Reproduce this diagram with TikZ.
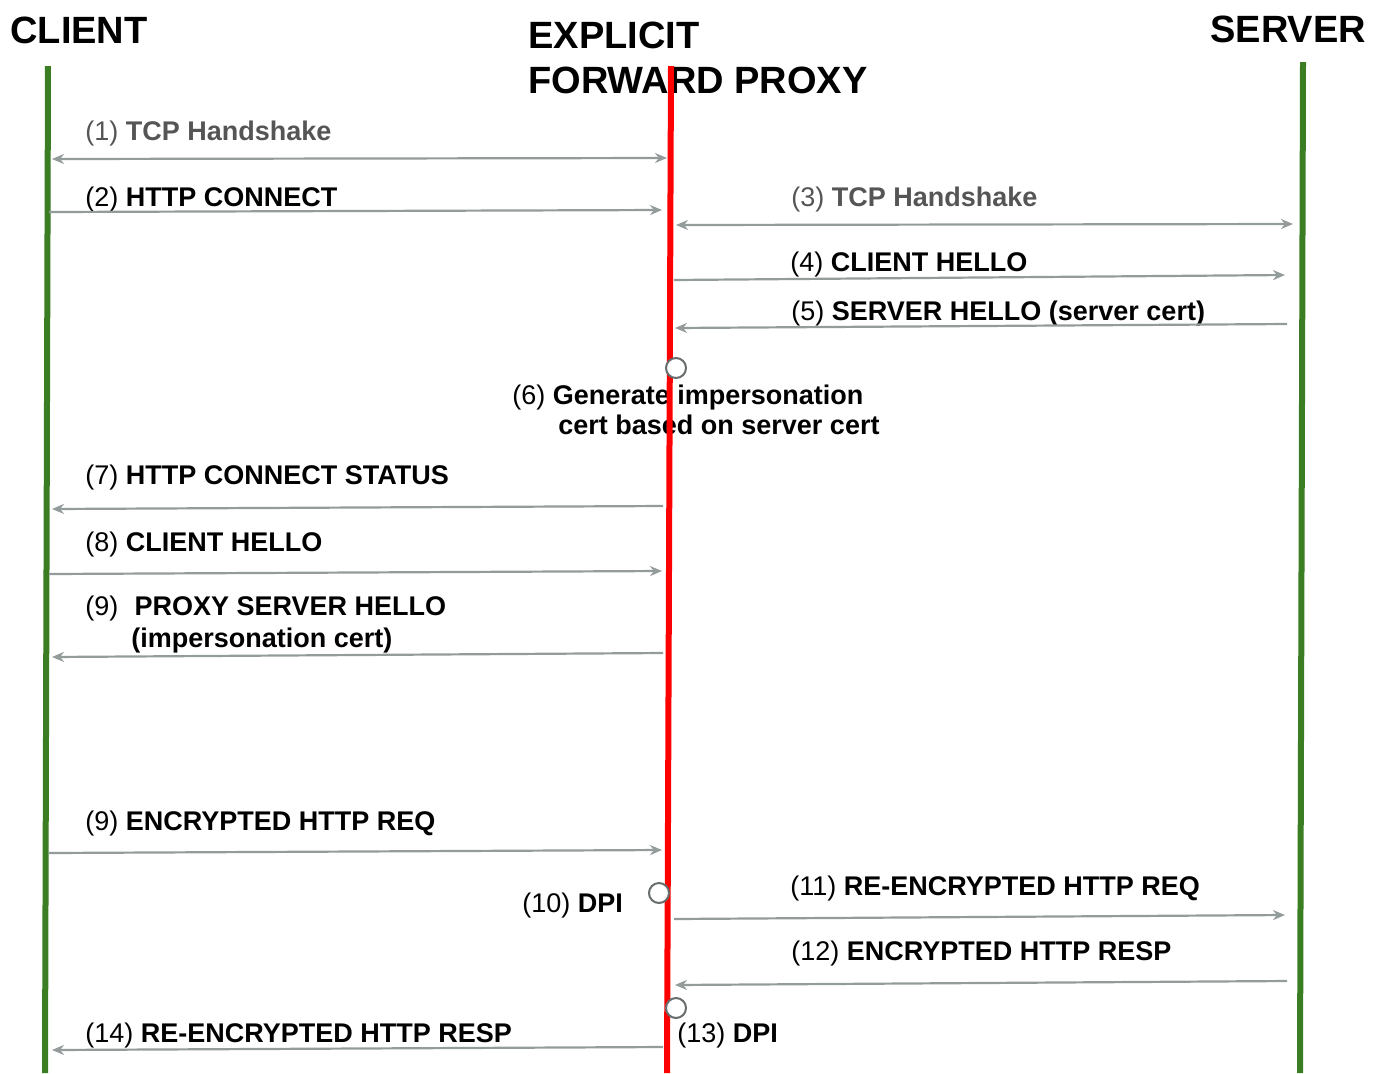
\documentclass[tikz,border=0pt]{standalone}
\usepackage{fontspec}
\setmainfont{Liberation Sans}
\usetikzlibrary{arrows.meta}
\definecolor{lifegreen}{HTML}{3A7D22}
\definecolor{msggray}{HTML}{939B9B}
\definecolor{labelgray}{HTML}{555555}
\tikzset{
  lifeline/.style={line width=3pt},
  msg/.style={draw=msggray, line width=1.1pt, >={Stealth[length=6pt,width=5pt]}},
  lbl/.style={anchor=base west, inner sep=0pt, font=\fontsize{13.5}{16}\selectfont},
  headline/.style={anchor=base west, inner sep=0pt, font=\fontsize{19}{23}\selectfont\bfseries},
  dpimark/.style={circle, draw=msggray!70!black, fill=white, line width=1pt, minimum size=10pt, inner sep=0pt},
}

\begin{document}
\begin{tikzpicture}[x=0.5pt,y=-0.5pt]
  \useasboundingbox (0,0) rectangle (1382,1073);
  %%%%% HEADINGS %%%%%
  \node[headline] (client) at (10,43) {CLIENT};
  \node[headline] (proxy1) at (528,48) {EXPLICIT};
  \node[headline] (proxy2) at (528,93) {FORWARD PROXY};
  \node[headline] (server) at (1210,42) {SERVER};

  %%%%% LABELS %%%%%
  \node[lbl, text=labelgray] (l1) at (85,140) {(1) \textbf{TCP Handshake}};
  \node[lbl] (l2) at (85,206) {(2) \textbf{HTTP CONNECT}};
  \node[lbl, text=labelgray] (l3) at (791,206) {(3) \textbf{TCP Handshake}};
  \node[lbl] (l4) at (790,271) {(4) \textbf{CLIENT HELLO}};
  \node[lbl] (l5) at (791,320) {(5) \textbf{SERVER HELLO (server cert)}};
  \node[lbl] (l6a) at (512,404) {(6) \textbf{Generate impersonation}};
  \node[lbl] (l6b) at (558,434) {\textbf{cert based on server cert}};
  \node[lbl] (l7) at (85,484) {(7) \textbf{HTTP CONNECT STATUS}};
  \node[lbl] (l8) at (85,551) {(8) \textbf{CLIENT HELLO}};
  \node[lbl] (l9a) at (85,615) {(9)\hspace{0.6em}\textbf{PROXY SERVER HELLO}};
  \node[lbl] (l9b) at (131,647) {\textbf{(impersonation cert)}};
  \node[lbl] (l9c) at (85,830) {(9) \textbf{ENCRYPTED HTTP REQ}};
  \node[lbl] (l10) at (522,912) {(10) \textbf{DPI}};
  \node[lbl] (l11) at (790,895) {(11) \textbf{RE-ENCRYPTED HTTP REQ}};
  \node[lbl] (l12) at (791,960) {(12) \textbf{ENCRYPTED HTTP RESP}};
  \node[lbl] (l13) at (677,1042) {(13) \textbf{DPI}};
  \node[lbl] (l14) at (85,1042) {(14) \textbf{RE-ENCRYPTED HTTP RESP}};

  %%%%% LIFELINES %%%%%
  \coordinate (clienttop) at (48,66);
  \coordinate (clientbot) at (45,1073);
  \coordinate (proxytop) at (671,66);
  \coordinate (proxybot) at (667,1073);
  \coordinate (servertop) at (1303,62);
  \coordinate (serverbot) at (1300,1073);
  \draw[lifeline, lifegreen] (clienttop) -- (clientbot);
  \draw[lifeline, red] (proxytop) -- (proxybot);
  \draw[lifeline, lifegreen] (servertop) -- (serverbot);

  %%%%% MESSAGES %%%%%
  \coordinate (m1a) at (52,159);    \coordinate (m1b) at (667,158);
  \coordinate (m2a) at (49,212);    \coordinate (m2b) at (662,210);
  \coordinate (m3a) at (676,225);   \coordinate (m3b) at (1293,224);
  \coordinate (m4a) at (674,280);   \coordinate (m4b) at (1285,275);
  \coordinate (m5a) at (1287,324);  \coordinate (m5b) at (675,328);
  \coordinate (m7a) at (663,506);   \coordinate (m7b) at (52,509);
  \coordinate (m8a) at (49,574);    \coordinate (m8b) at (662,571);
  \coordinate (m9a) at (663,653);   \coordinate (m9b) at (52,657);
  \coordinate (m9c) at (49,853);    \coordinate (m9d) at (662,850);
  \coordinate (m11a) at (674,919);  \coordinate (m11b) at (1285,915);
  \coordinate (m12a) at (1287,981); \coordinate (m12b) at (675,985);
  \coordinate (m14a) at (663,1047); \coordinate (m14b) at (52,1050);
  \draw[msg, <->] (m1a) -- (m1b);
  \draw[msg, ->] (m2a) -- (m2b);
  \draw[msg, <->] (m3a) -- (m3b);
  \draw[msg, ->] (m4a) -- (m4b);
  \draw[msg, ->] (m5a) -- (m5b);
  \draw[msg, ->] (m7a) -- (m7b);
  \draw[msg, ->] (m8a) -- (m8b);
  \draw[msg, ->] (m9a) -- (m9b);
  \draw[msg, ->] (m9c) -- (m9d);
  \draw[msg, ->] (m11a) -- (m11b);
  \draw[msg, ->] (m12a) -- (m12b);
  \draw[msg, ->] (m14a) -- (m14b);

  %%%%% PROCESSING MARKS %%%%%
  \node[dpimark] (gen) at (676,368) {};
  \node[dpimark] (dpi1) at (659,893) {};
  \node[dpimark] (dpi2) at (676,1008) {};
\end{tikzpicture}
\end{document}
